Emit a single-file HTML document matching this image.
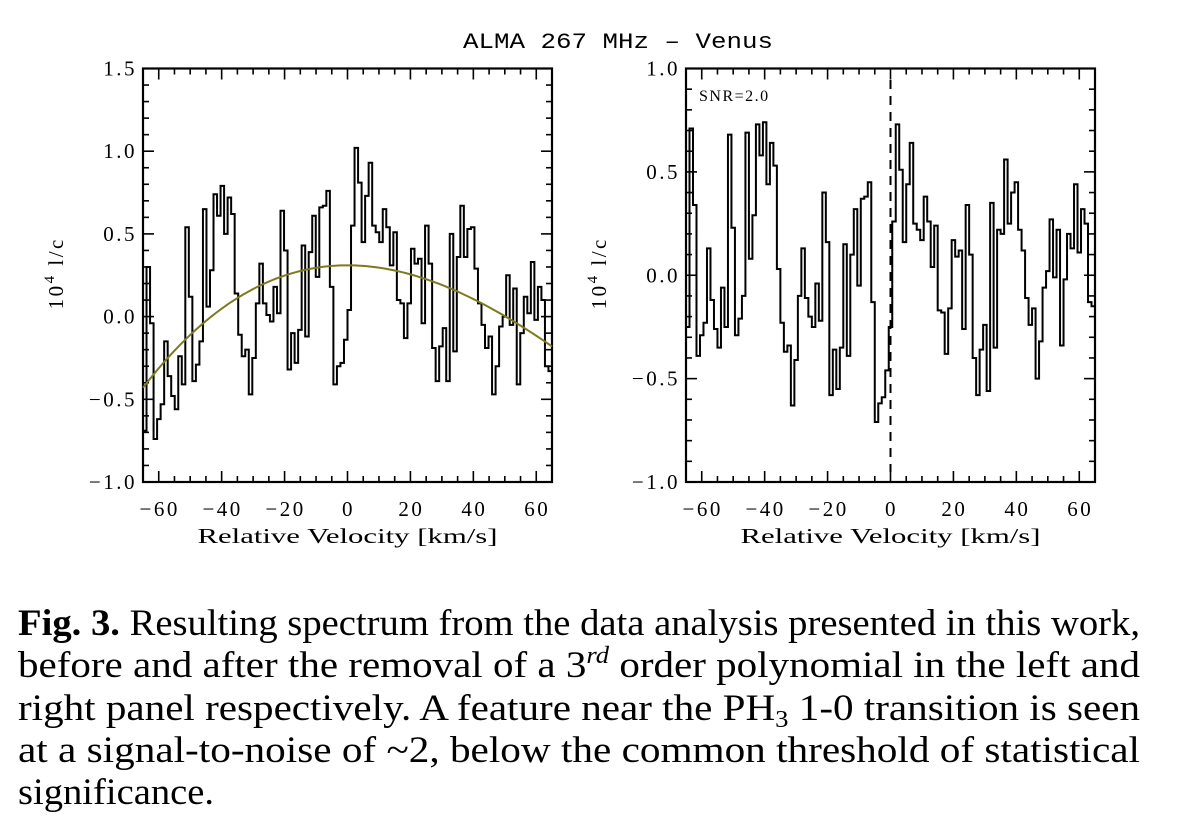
<!DOCTYPE html>
<html><head><meta charset="utf-8"><style>
html,body{margin:0;padding:0;background:#fff;width:1200px;height:831px;overflow:hidden}
svg{display:block}
</style></head><body>
<svg id="fig" width="1200" height="831" viewBox="0 0 1200 831" xmlns="http://www.w3.org/2000/svg">
<text x="463" y="48" textLength="310" lengthAdjust="spacingAndGlyphs" font-family="Liberation Mono, monospace" font-size="22">ALMA 267 MHz – Venus</text>
<g id="left"></g>
<g id="right"></g>
<g font-family="Liberation Serif, serif" font-size="37">
<text x="18" y="635" textLength="1122" lengthAdjust="spacingAndGlyphs"><tspan font-weight="bold">Fig. 3.</tspan> Resulting spectrum from the data analysis presented in this work,</text>
<text x="18" y="677" textLength="1122" lengthAdjust="spacingAndGlyphs">before and after the removal of a 3<tspan font-style="italic" font-size="24" dy="-14">rd</tspan><tspan dy="14"> order polynomial in the left and</tspan></text>
<text x="18" y="720" textLength="1122" lengthAdjust="spacingAndGlyphs">right panel respectively. A feature near the PH<tspan font-size="24" dy="7">3</tspan><tspan dy="-7"> 1-0 transition is seen</tspan></text>
<text x="18" y="762" textLength="1122" lengthAdjust="spacingAndGlyphs">at a signal-to-noise of ~2, below the common threshold of statistical</text>
<text x="18" y="804" textLength="196" lengthAdjust="spacingAndGlyphs">significance.</text>
</g>
</svg>
<script>
const leftValues = [-0.69,0.30,-0.04,-0.74,-0.62,-0.53,-0.15,-0.36,-0.48,-0.56,-0.24,-0.41,0.54,0.12,-0.39,-0.29,-0.15,0.65,0.06,0.28,0.74,0.61,0.79,0.50,0.72,0.62,0.14,-0.11,-0.24,-0.20,-0.47,-0.25,0.08,0.32,0.08,0.01,-0.03,0.18,0.02,0.64,0.40,-0.32,-0.10,-0.28,-0.08,0.43,-0.12,0.39,0.61,0.24,0.66,0.67,0.76,0.18,-0.41,-0.30,-0.28,-0.14,0.04,
0.55,1.02,0.81,0.45,0.73,0.93,0.55,0.51,0.45,0.65,0.54,0.31,0.51,0.10,0.08,-0.13,0.08,0.41,0.32,0.35,-0.04,0.55,0.32,-0.19,-0.39,-0.18,-0.07,-0.39,0.50,-0.21,0.36,0.67,0.36,0.53,0.54,0.29,0.08,-0.05,-0.19,-0.12,-0.47,-0.30,-0.06,0.00,0.25,-0.05,0.17,-0.41,-0.10,0.12,0.02,0.33,-0.02,0.18,0.10,-0.30,-0.33];
const rightValues = [-0.25,0.71,0.34,-0.39,-0.29,-0.23,0.13,-0.12,-0.26,-0.35,-0.06,-0.25,0.68,0.23,-0.29,-0.21,-0.10,0.69,0.08,0.29,0.73,0.58,0.74,0.44,0.64,0.53,0.03,-0.23,-0.37,-0.34,-0.63,-0.41,-0.10,0.13,-0.11,-0.20,-0.25,-0.04,-0.22,0.40,0.16,-0.58,-0.36,-0.55,-0.35,0.15,-0.39,0.10,0.32,-0.05,0.37,0.38,0.45,-0.13,-0.71,-0.62,-0.59,-0.46,-0.25,0.26,
0.73,0.51,0.16,0.44,0.64,0.25,0.22,0.17,0.38,0.26,0.04,0.24,-0.17,-0.18,-0.38,-0.16,0.17,0.09,0.12,-0.26,0.34,0.10,-0.40,-0.58,-0.36,-0.24,-0.56,0.35,-0.35,0.22,0.20,0.56,0.25,0.40,0.45,0.22,0.12,-0.11,-0.24,-0.16,-0.50,-0.32,-0.06,0.02,0.27,-0.01,0.22,-0.34,-0.02,0.20,0.13,0.44,0.11,0.32,0.25,-0.13,-0.15];
const fitCoeffs = [0.31, 0, -1.456e-4, 4.55e-7];
const xTicks = [-60,-40,-20,0,20,40,60];
const leftYTicks = [-1.0,-0.5,0.0,0.5,1.0,1.5];
const rightYTicks = [-1.0,-0.5,0.0,0.5,1.0];
const velRange = [-65,65];
const snrLabel = "SNR=2.0";
const lineVelocity = 0;

const NS='http://www.w3.org/2000/svg';
function mk(parent,tag,attrs){const e=document.createElementNS(NS,tag);for(const k in attrs)e.setAttribute(k,attrs[k]);parent.appendChild(e);return e;}
function fmt(v){const s=Math.abs(v).toFixed(1);return v<0?'\u2212'+s:s;}
const tickFont={'font-family':'Liberation Serif, serif','font-size':21,'letter-spacing':2.5};

function panel(g,box,yr,yTicks,values,name){
  const X=v=>box.x0+(v-velRange[0])/(velRange[1]-velRange[0])*(box.x1-box.x0);
  const Y=v=>box.y1-(v-yr[0])/(yr[1]-yr[0])*(box.y1-box.y0);
  const fr=mk(g,'rect',{x:box.x0,y:box.y0,width:box.x1-box.x0,height:box.y1-box.y0,fill:'none',stroke:'#000','stroke-width':2.2});
  
  
  for(let v=velRange[0];v<=velRange[1];v+=5){
    const major=v%20===0; const L=major?11:6;
    const t1=mk(g,'line',{x1:X(v),x2:X(v),y1:box.y1,y2:box.y1-L,stroke:'#000','stroke-width':1.6});
    
    
    mk(g,'line',{x1:X(v),x2:X(v),y1:box.y0,y2:box.y0+L,stroke:'#000','stroke-width':1.6});
  }
  xTicks.forEach(v=>{
    const t=mk(g,'text',Object.assign({x:X(v)+1,y:box.y1+34,'text-anchor':'middle'},tickFont));
    t.textContent=fmt(v).replace('.0','');
    
    
  });
  const nMinor=Math.round((yr[1]-yr[0])/0.1);
  for(let i=0;i<=nMinor;i++){
    const v=yr[0]+i*0.1; const major=Math.abs(v*2-Math.round(v*2))<1e-6; const L=major?11:6;
    const t2=mk(g,'line',{x1:box.x0,x2:box.x0+L,y1:Y(v),y2:Y(v),stroke:'#000','stroke-width':1.6});
    
    
    mk(g,'line',{x1:box.x1,x2:box.x1-L,y1:Y(v),y2:Y(v),stroke:'#000','stroke-width':1.6});
  }
  yTicks.forEach(v=>{
    const t=mk(g,'text',Object.assign({x:box.x0-6,y:Y(v)+7,'text-anchor':'end'},tickFont));
    t.textContent=fmt(v);
    
    
  });
  const cx=(box.x0+box.x1)/2;
  const xt=mk(g,'text',{x:cx-150,y:box.y1+61,textLength:300,lengthAdjust:'spacingAndGlyphs','font-family':'Liberation Serif, serif','font-size':21});
  xt.textContent='Relative Velocity [km/s]';
  
  
  const yt=mk(g,'text',{transform:'translate('+(box.x0-80)+','+((box.y0+box.y1)/2-2)+') rotate(-90)','text-anchor':'middle','font-family':'Liberation Serif, serif','font-size':21,'letter-spacing':2.5});
  yt.innerHTML='10<tspan font-size="15" dy="-9">4</tspan><tspan dy="9"> l/c</tspan>';
  
  
  const n=values.length, w=(velRange[1]-velRange[0])/n;
  let d='';
  values.forEach((v,i)=>{
    const xa=X(velRange[0]+i*w), xb=X(velRange[0]+(i+1)*w), y=Y(v);
    d+=(i===0?'M'+xa+','+y:'L'+xa+','+y)+'L'+xb+','+y;
  });
  const p=mk(g,'path',{d:d,fill:'none',stroke:'#000','stroke-width':2});
  
  
  return {X,Y};
}

const L=panel(document.getElementById('left'),{x0:143,x1:552,y0:68.5,y1:482},[-1.0,1.5],leftYTicks,leftValues,'left');
let fd='';
for(let v=velRange[0];v<=velRange[1];v+=1){
  const f=fitCoeffs[0]+fitCoeffs[1]*v+fitCoeffs[2]*v*v+fitCoeffs[3]*v*v*v;
  fd+=(v===velRange[0]?'M':'L')+L.X(v)+','+L.Y(f);
}
const fit=mk(document.getElementById('left'),'path',{d:fd,fill:'none',stroke:'#7d7a1e','stroke-width':2});



const R=panel(document.getElementById('right'),{x0:686,x1:1095,y0:68.5,y1:482},[-1.0,1.0],rightYTicks,rightValues,'right');
const dl=mk(document.getElementById('right'),'line',{x1:R.X(lineVelocity),x2:R.X(lineVelocity),y1:80,y2:472,stroke:'#000','stroke-width':2,'stroke-dasharray':'9,7'});


const sn=mk(document.getElementById('right'),'text',{x:699,y:101,'font-family':'Liberation Serif, serif','font-size':16,'letter-spacing':1.5});
sn.textContent=snrLabel;


</script>
</body></html>
